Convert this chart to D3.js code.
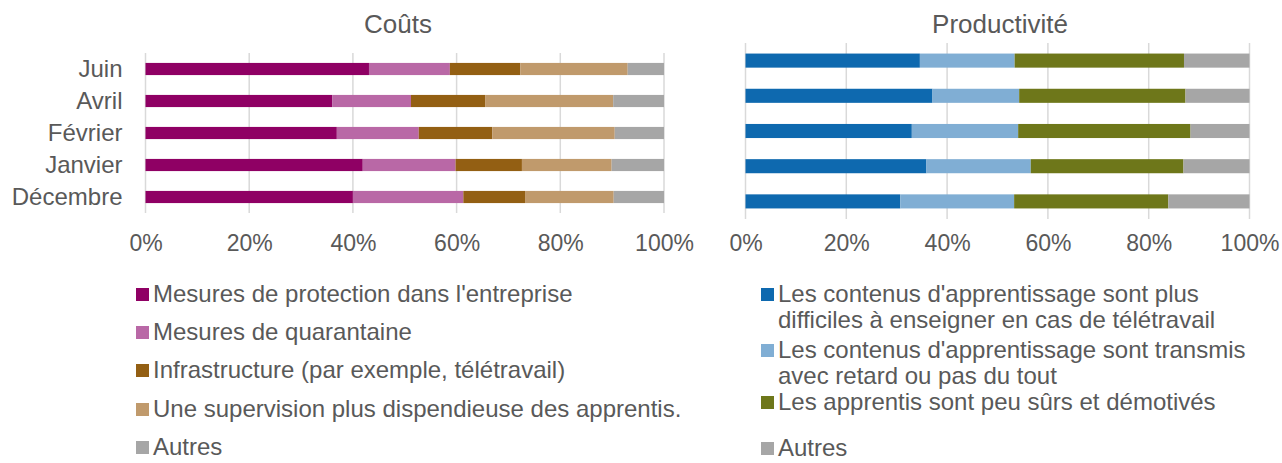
<!DOCTYPE html>
<html>
<head>
<meta charset="utf-8">
<script src="https://cdn.jsdelivr.net/npm/d3@7"></script>
<style>
  body { margin: 0; background: #fff; }
  svg { font-family: "Liberation Sans", Arial, sans-serif; }
  .tick text { fill: #595959; }
</style>
</head>
<body>
<svg id="chart" width="1282" height="463"></svg>
<script>
// mois (de haut en bas)
const months = ["Juin", "Avril", "Février", "Janvier", "Décembre"];
const ticks = [0, 20, 40, 60, 80, 100];

// Coûts
const costKeys = ["Mesures de protection dans l'entreprise", "Mesures de quarantaine",
  "Infrastructure (par exemple, télétravail)", "Une supervision plus dispendieuse des apprentis.", "Autres"];
const costProtection = [43.1, 36.0, 36.9, 41.9, 40.0];
const costQuarantaine = [15.6, 15.2, 15.8, 17.9, 21.3];
const costInfra = [13.6, 14.3, 14.2, 12.8, 11.9];
const costSupervision = [20.7, 24.7, 23.6, 17.3, 17.1];
const costAutres = [7.0, 9.8, 9.5, 10.1, 9.7];
const costColors = ["#8f0064", "#b968a6", "#935f13", "#c09a6c", "#a6a6a6"];

// Productivité
const prodKeys = ["Les contenus d'apprentissage sont plus|difficiles à enseigner en cas de télétravail",
  "Les contenus d'apprentissage sont transmis|avec retard ou pas du tout",
  "Les apprentis sont peu sûrs et démotivés", "Autres"];
const prodDifficiles = [34.6, 37.1, 33.0, 35.9, 30.7];
const prodRetard = [18.8, 17.2, 21.1, 20.7, 22.6];
const prodDemotives = [33.6, 33.0, 34.2, 30.3, 30.6];
const prodAutres = [13.0, 12.7, 11.7, 13.1, 16.1];
const prodColors = ["#0e69af", "#80aed4", "#6e771a", "#a6a6a6"];

const svg = d3.select("#chart");

function drawPanel(opt) {
  const rows = months.map((m, i) => {
    const r = { month: m };
    opt.series.forEach((s, k) => r[k] = s[i]);
    return r;
  });
  const stack = d3.stack().keys(opt.series.map((s, k) => k))(rows);

  const x = d3.scaleLinear().domain([0, 100]).range([opt.x0, opt.x1]);
  const y = d3.scaleBand().domain(months).range([opt.y0, opt.y1]).paddingInner(opt.pad).paddingOuter(opt.pad / 2);

  const g = svg.append("g");

  // grille
  g.selectAll(".grid").data(ticks).enter().append("line")
    .attr("x1", d => x(d)).attr("x2", d => x(d))
    .attr("y1", opt.y0).attr("y2", opt.y1)
    .attr("stroke", "#d9d9d9").attr("stroke-width", 1.5);

  g.selectAll(".serie").data(stack).enter().append("g")
    .attr("fill", (d, i) => opt.colors[i])
    .selectAll("rect").data(d => d).enter().append("rect")
    .attr("x", d => x(d[0]))
    .attr("y", d => y(d.data.month))
    .attr("width", d => x(d[1]) - x(d[0]))
    .attr("height", y.bandwidth());

  // axe x
  const xAxis = g.append("g")
    .attr("transform", `translate(0,${opt.y1})`)
    .call(d3.axisBottom(x).tickValues(ticks).tickFormat(d => d + "%").tickSize(0).tickPadding(opt.tickPad));
  xAxis.select(".domain").remove();
  xAxis.selectAll("text").attr("font-size", 23).attr("font-family", "Liberation Sans, Arial, sans-serif");

  if (opt.labels) {
    const yAxis = g.append("g")
      .attr("transform", `translate(${opt.x0 - 10},0)`)
      .call(d3.axisLeft(y).tickSize(0).tickPadding(13));
    yAxis.select(".domain").remove();
    yAxis.selectAll("text").attr("font-size", 24).attr("font-family", "Liberation Sans, Arial, sans-serif");
  }

  g.append("text")
    .attr("x", opt.titleX).attr("y", 33)
    .attr("text-anchor", "middle")
    .attr("font-size", 26).attr("fill", "#595959")
    .text(opt.title);

  // légende
  const leg = g.selectAll(".leg").data(opt.keys).enter().append("g")
    .attr("transform", (d, i) => `translate(${opt.legX},${opt.legY[i]})`);
  leg.append("rect")
    .attr("x", 0).attr("y", -6).attr("width", 13).attr("height", 13)
    .attr("fill", (d, i) => opt.colors[i]);
  leg.append("text")
    .attr("x", 17).attr("font-size", 24).attr("fill", "#595959")
    .selectAll("tspan").data(d => d.split("|")).enter().append("tspan")
    .attr("x", 17)
    .attr("dy", (d, i) => i === 0 ? "0.35em" : 26)
    .text(d => d);
}

drawPanel({
  title: "Coûts", titleX: 398,
  series: [costProtection, costQuarantaine, costInfra, costSupervision, costAutres],
  keys: costKeys, colors: costColors,
  x0: 145.5, x1: 664, y0: 53, y1: 213, pad: 0.62, labels: true, tickPad: 22,
  legX: 136, legY: [294, 332, 370, 409, 447]
});

drawPanel({
  title: "Productivité", titleX: 1000,
  series: [prodDifficiles, prodRetard, prodDemotives, prodAutres],
  keys: prodKeys, colors: prodColors,
  x0: 745.5, x1: 1249.5, y0: 43, y1: 219, pad: 0.6, labels: false, tickPad: 16,
  legX: 761, legY: [294, 350, 402, 448]
});
</script>
</body>
</html>
